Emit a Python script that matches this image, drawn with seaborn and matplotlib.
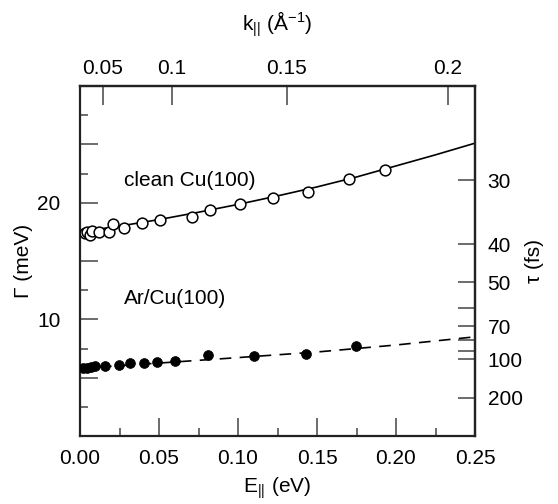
import numpy as np
import pandas as pd
import matplotlib
matplotlib.use("Agg")
import matplotlib.pyplot as plt
import seaborn as sns

# ---- data ----
clean_E = [0.0032, 0.0046, 0.0063, 0.0074, 0.0120, 0.0185, 0.0207, 0.0280, 0.0394,
           0.0508, 0.0707, 0.0823, 0.1013, 0.1223, 0.1445, 0.1700, 0.1930]
clean_G = [17.37, 17.45, 17.25, 17.59, 17.48, 17.48, 18.17, 17.80, 18.25,
           18.51, 18.74, 19.37, 19.85, 20.37, 20.93, 22.00, 22.80]

ar_E = [0.0022, 0.0047, 0.0070, 0.0096, 0.0156, 0.0244, 0.0318, 0.0408, 0.0489,
        0.0599, 0.0813, 0.1104, 0.1429, 0.1746]
ar_G = [5.87, 5.87, 5.93, 5.98, 5.98, 6.07, 6.24, 6.27, 6.36,
        6.42, 6.91, 6.87, 7.04, 7.68]

clean_fit_E = [0.0, 0.025, 0.05, 0.075, 0.10, 0.125, 0.15, 0.175, 0.20, 0.225, 0.25]
clean_fit_G = [17.50, 17.99, 18.55, 19.18, 19.85, 20.58, 21.35, 22.20, 23.15, 24.10, 25.10]

ar_fit_E = [0.0, 0.05, 0.10, 0.15, 0.20, 0.25]
ar_fit_G = [5.80, 6.25, 6.72, 7.20, 7.80, 8.50]

x_major = [0.00, 0.05, 0.10, 0.15, 0.20, 0.25]
x_labels = ["0.00", "0.05", "0.10", "0.15", "0.20", "0.25"]
y_major = [5, 10, 15, 20, 25]
y_labels = ["", "10", "", "20", ""]
k_ticks = [0.05, 0.1, 0.15, 0.2]
k_labels = ["0.05", "0.1", "0.15", "0.2"]
tau_ticks = [30, 40, 50, 60, 70, 80, 90, 100, 200]
tau_labels = ["30", "40", "50", "", "70", "", "", "100", "200"]

HBAR = 658.2      # meV fs
E_PER_K2 = 5.82   # eV Å^2 (E = C k^2)

sns.set_style("ticks")
plt.rcParams["font.family"] = ["Liberation Sans", "DejaVu Sans"]
plt.rcParams["mathtext.default"] = "regular"
plt.rcParams["text.color"] = "black"
plt.rcParams["axes.labelcolor"] = "black"
plt.rcParams["xtick.labelcolor"] = "black"
plt.rcParams["ytick.labelcolor"] = "black"
FS = 15

fig = plt.figure(figsize=(5.58, 5.04), dpi=100)
ax = fig.add_axes([80/558, 1-436/504, 395/558, 350/504])

df_clean = pd.DataFrame({"E": clean_E, "G": clean_G})
df_ar = pd.DataFrame({"E": ar_E, "G": ar_G})
df_cfit = pd.DataFrame({"E": clean_fit_E, "G": clean_fit_G})
df_afit = pd.DataFrame({"E": ar_fit_E, "G": ar_fit_G})

sns.lineplot(data=df_cfit, x="E", y="G", ax=ax, color="black", lw=1.2, zorder=2)
sns.lineplot(data=df_afit, x="E", y="G", ax=ax, color="black", lw=1.2,
             dashes=False, zorder=2).lines[-1].set_dashes([7, 5])
sns.scatterplot(data=df_clean, x="E", y="G", ax=ax, marker="o", s=60,
                facecolor="white", edgecolor="black", linewidth=1.1, zorder=3)
sns.scatterplot(data=df_ar, x="E", y="G", ax=ax, marker="o", s=50,
                color="black", edgecolor="black", linewidth=0.5, zorder=3)

ax.set_xlim(0, 0.25)
ax.set_ylim(0, 30)
ax.set_xticks(x_major, x_labels)
ax.set_xticks([0.025, 0.075, 0.125, 0.175, 0.225], minor=True)
ax.set_yticks(y_major, y_labels)
ax.set_yticks([2.5, 7.5, 12.5, 17.5, 22.5, 27.5], minor=True)
ax.tick_params(axis="both", which="major", direction="in", length=13, width=1.1,
               labelsize=FS, color="#444444")
ax.tick_params(axis="both", which="minor", direction="in", length=6, width=1.1,
               color="#444444")
ax.tick_params(axis="x", which="major", pad=9)
ax.tick_params(axis="y", which="major", pad=14)
ax.set_xlabel(r"E$_{||}$ (eV)", fontsize=FS, labelpad=6)
ax.set_ylabel("Γ (meV)", fontsize=FS, labelpad=3)
for s in ax.spines.values():
    s.set_linewidth(1.6)
    s.set_color("#222222")

# top axis: k_parallel
def e2k(e):
    return np.sqrt(np.clip(e, 0, None) / E_PER_K2)

def k2e(k):
    return E_PER_K2 * np.asarray(k) ** 2

top = ax.secondary_xaxis("top", functions=(e2k, k2e))
top.set_xticks(k_ticks, k_labels)
top.tick_params(direction="in", length=14, width=1.1, labelsize=FS, pad=6,
                color="#444444")
top.set_xlabel(r"k$_{||}$ ($\AA^{-1}$)", fontsize=FS, labelpad=20)
top.spines["top"].set_linewidth(1.6)

# right axis: lifetime tau = hbar / Gamma
def g2t(g):
    return HBAR / np.clip(g, 1e-3, None)

def t2g(t):
    return HBAR / np.clip(t, 1e-3, None)

right = ax.secondary_yaxis("right", functions=(g2t, t2g))
right.set_yticks(tau_ticks, tau_labels)
right.yaxis.set_minor_locator(matplotlib.ticker.NullLocator())
right.tick_params(direction="in", length=12, width=1.1, labelsize=FS, pad=9,
                  color="#444444")
right.set_ylabel("τ (fs)", fontsize=FS, labelpad=2, rotation=90)
right.spines["right"].set_linewidth(1.6)

ax.text(0.0277, 21.9, "clean Cu(100)", fontsize=FS, va="center", ha="left")
ax.text(0.0277, 11.8, "Ar/Cu(100)", fontsize=FS, va="center", ha="left")

fig.savefig("out.png", dpi=100)
